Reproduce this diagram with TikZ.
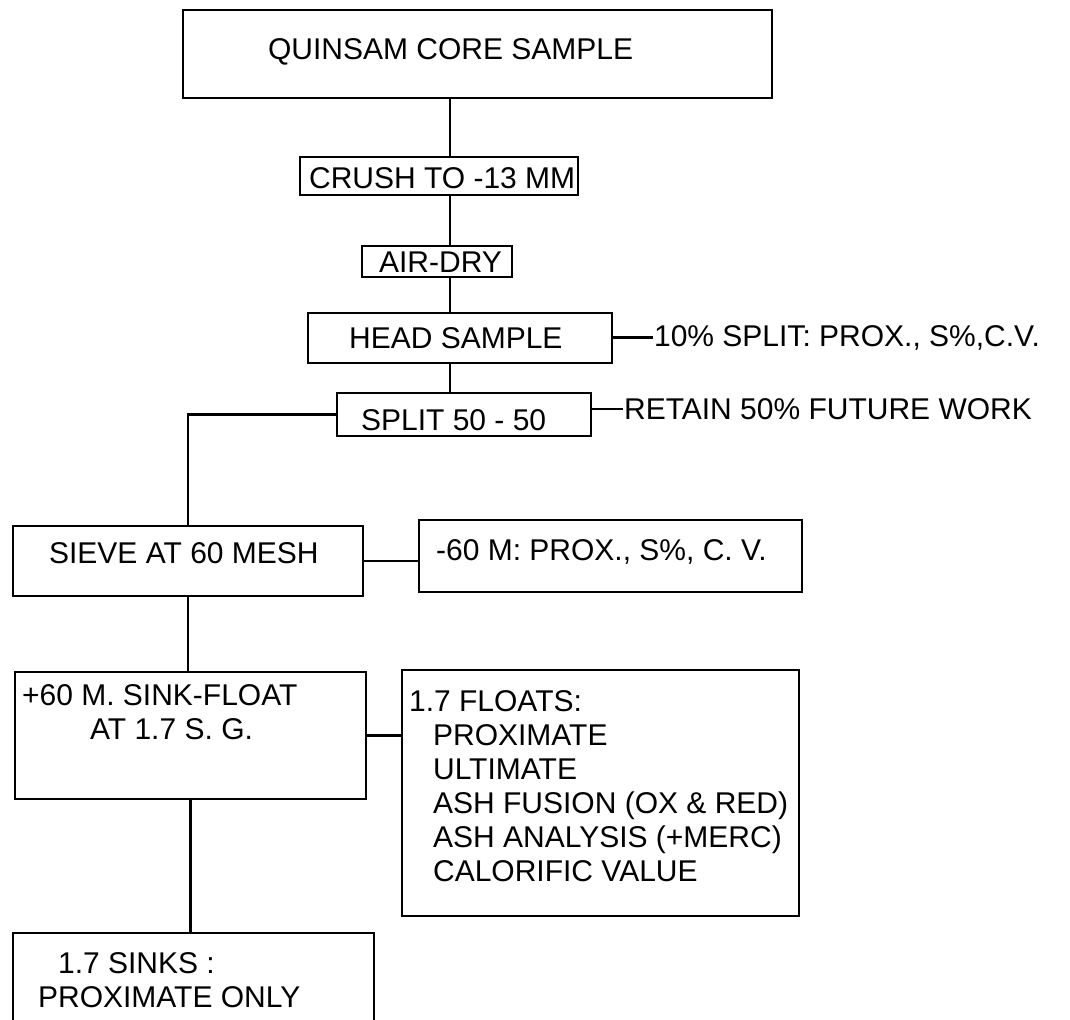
\documentclass[tikz,border=0pt]{standalone}
\usepackage{fontspec}
\setmainfont{Liberation Sans}
\usepackage{tikz}

\begin{document}
\begin{tikzpicture}[x=0.5pt,y=-0.5pt,line width=1.1pt,
  box/.style={draw,inner sep=0pt,outer sep=0pt},
  txt/.style={inner sep=0pt,anchor=base west,align=left,font=\fontsize{15pt}{17pt}\selectfont}]
  \useasboundingbox (0,0) rectangle (1070,1019);
  \clip (0,0) rectangle (1070,1019);
  % boxes
  \node[box,minimum width=294.5pt,minimum height=44pt] (core) at (477.5,54) {};
  \node[box,minimum width=139pt,minimum height=19pt] (crush) at (439,176) {};
  \node[box,minimum width=75pt,minimum height=15.5pt] (air) at (437,261.5) {};
  \node[box,minimum width=152pt,minimum height=25pt] (head) at (460,338) {};
  \node[box,minimum width=127pt,minimum height=21.5pt] (split) at (464,414.5) {};
  \node[box,minimum width=175pt,minimum height=35pt] (sieve) at (188,561) {};
  \node[box,minimum width=191.5pt,minimum height=36pt] (minus) at (610.5,556) {};
  \node[box,minimum width=175.5pt,minimum height=63.5pt] (sinkfl) at (190.5,735.5) {};
  \node[box,minimum width=198.5pt,minimum height=123pt] (floats) at (600.5,793) {};
  \node[box,minimum width=180.5pt,minimum height=53.5pt] (sinks) at (193.5,986.5) {};
  % texts (base = last line)
  \node[txt] (coretxt) at (267,59) {QUINSAM CORE SAMPLE};
  \node[txt] (crushtxt) at (308,188) {CRUSH TO -13 MM};
  \node[txt] (airtxt) at (378,272) {AIR-DRY};
  \node[txt] (headtxt) at (348,348) {HEAD SAMPLE};
  \node[txt] (splittxt) at (360,430) {SPLIT 50 - 50};
  \node[txt] (tenpct) at (653,346) {10\% SPLIT: PROX., S\%,C.V.};
  \node[txt] (retain) at (623,419) {RETAIN 50\% FUTURE WORK};
  \node[txt] (sievetxt) at (48,563) {SIEVE AT 60 MESH};
  \node[txt] (minustxt) at (435,560) {-60 M: PROX., S\%, C. V.};
  \node[txt] (sinkfltxt) at (21,739) {+60 M. SINK-FLOAT\\\hspace*{34pt}AT 1.7 S. G.};
  \node[txt] (floatstxt) at (408,881) {1.7 FLOATS:\\
    \hspace*{12pt}PROXIMATE\\
    \hspace*{12pt}ULTIMATE\\
    \hspace*{12pt}ASH FUSION (OX \& RED)\\
    \hspace*{12pt}ASH ANALYSIS (+MERC)\\
    \hspace*{12pt}CALORIFIC VALUE};
  \node[txt] (sinkstxt) at (37,1007) {\hspace*{10pt}1.7 SINKS :\\PROXIMATE ONLY};
  % connectors
  \coordinate (spine) at (450,0);
  \draw (core.south -| spine) -- (crush.north -| spine);
  \draw (crush.south -| spine) -- (air.north -| spine);
  \draw (air.south -| spine) -- (head.north -| spine);
  \draw (head.south -| spine) -- (split.north -| spine);
  \draw (tenpct.west -| head.east) -- (tenpct.west);
  \draw (retain.west -| split.east) -- (retain.west);
  \draw (split.west) -| (sieve.north);
  \draw (sieve.east) -- (sieve.east -| minus.west);
  \draw (sieve.south) -- (sieve.south |- sinkfl.north);
  \draw (sinkfl.east) -- (sinkfl.east -| floats.west);
  \draw (sinkfl.south) -- (sinkfl.south |- sinks.north);
\end{tikzpicture}
\end{document}
